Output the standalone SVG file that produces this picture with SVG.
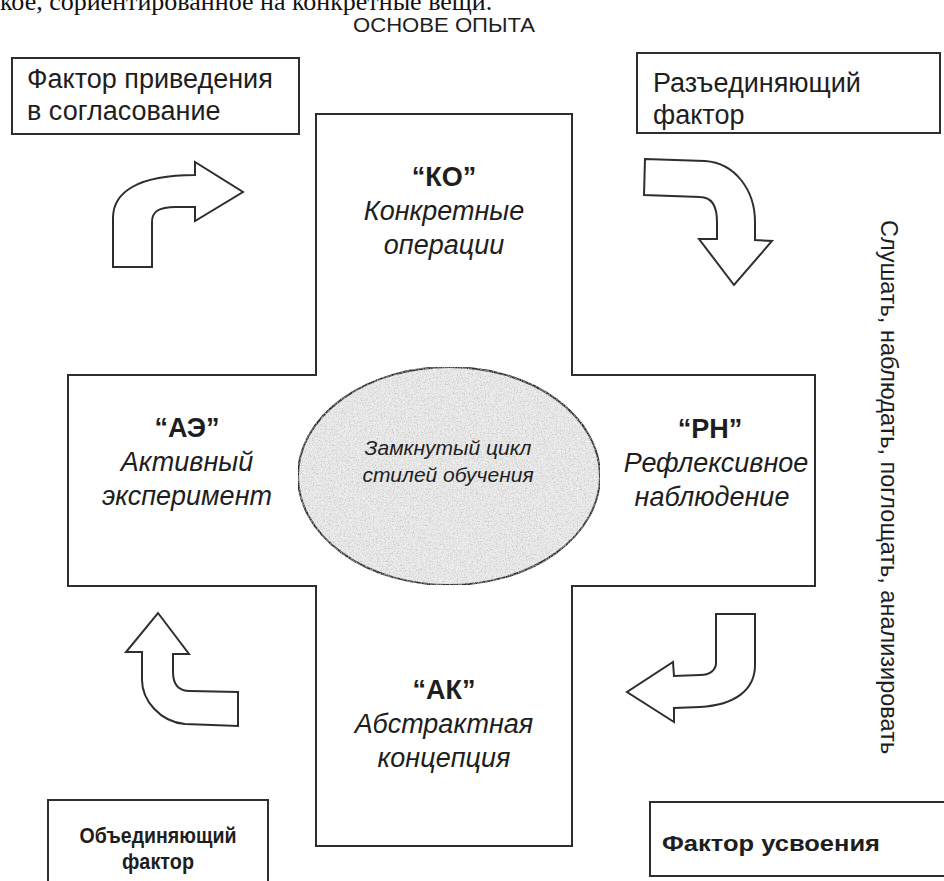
<svg xmlns="http://www.w3.org/2000/svg" width="944" height="881" viewBox="0 0 944 881">
  <style>
    .ln { fill: #fff; stroke: #2e2e2e; stroke-width: 2; stroke-linejoin: miter; }
    .box { fill: #fff; stroke: #2e2e2e; stroke-width: 2; }
    .sans { font-family: "Liberation Sans", Arial, sans-serif; fill: #1e1e1e; }
    .lbl { font-size: 27px; }
    .code { font-size: 27px; font-weight: bold; text-anchor: middle; }
    .it { font-size: 27px; font-style: italic; text-anchor: middle; }
    .fb { font-size: 22px; font-weight: bold; }
    .arrow { fill: #fff; stroke: #2e2e2e; stroke-width: 2; stroke-linejoin: miter; }
  </style>
  <defs>
    <filter id="grain" x="0" y="0" width="100%" height="100%">
      <feTurbulence type="fractalNoise" baseFrequency="0.75" numOctaves="2" seed="7" result="n"/>
      <feColorMatrix in="n" type="matrix" values="0 0 0 0 0.5  0 0 0 0 0.5  0 0 0 0 0.5  0 0 0 2.0 -0.85" result="dots"/>
      <feComposite in="dots" in2="SourceAlpha" operator="in" result="d2"/>
      <feMerge><feMergeNode in="SourceGraphic"/><feMergeNode in="d2"/></feMerge>
    </filter>
  </defs>

  <!-- running text of the page above the figure -->
  <text x="0" y="10" font-family="'Liberation Serif', 'Times New Roman', serif" font-size="26" fill="#111">кое, сориентированное на конкретные вещи.</text>

  <text class="sans" x="444" y="32" font-size="20" text-anchor="middle" textLength="182" lengthAdjust="spacingAndGlyphs">ОСНОВЕ ОПЫТА</text>

  <!-- cross-shaped frame -->
  <g id="cycle-frame">
    <path class="ln" d="M316,114 H572 V375 H815 V586 H572 V846 H316 V586 H68 V375 H316 Z"/>
  </g>

  <g id="node-ko">
    <text class="sans code" x="444" y="186">“КО”</text>
    <text class="sans it" x="444" y="220">Конкретные</text>
    <text class="sans it" x="444" y="254">операции</text>
  </g>

  <g id="node-ae">
    <text class="sans code" x="187" y="437">“АЭ”</text>
    <text class="sans it" x="187" y="471">Активный</text>
    <text class="sans it" x="187" y="505">эксперимент</text>
  </g>

  <g id="node-rn">
    <text class="sans code" x="710" y="438">“РН”</text>
    <text class="sans it" x="716" y="472">Рефлексивное</text>
    <text class="sans it" x="712" y="506">наблюдение</text>
  </g>

  <g id="node-ak">
    <text class="sans code" x="444" y="699">“АК”</text>
    <text class="sans it" x="444" y="733">Абстрактная</text>
    <text class="sans it" x="444" y="767">концепция</text>
  </g>

  <g id="node-center">
    <ellipse cx="449" cy="476" rx="151" ry="109" fill="#ededed" stroke="#2e2e2e" stroke-width="2" filter="url(#grain)"/>
    <text class="sans" x="448" y="455" font-size="21" font-style="italic" text-anchor="middle">Замкнутый цикл</text>
    <text class="sans" x="448" y="482" font-size="21" font-style="italic" text-anchor="middle">стилей обучения</text>
  </g>

  <!-- factor boxes -->
  <g id="node-accommodation">
    <rect class="box" x="12" y="58" width="287" height="76"/>
    <text class="sans lbl" x="27" y="88">Фактор приведения</text>
    <text class="sans lbl" x="27" y="120">в согласование</text>
  </g>

  <g id="node-divergence">
    <rect class="box" x="637" y="53" width="303" height="80"/>
    <text class="sans lbl" x="653" y="92">Разъединяющий</text>
    <text class="sans lbl" x="653" y="124">фактор</text>
  </g>

  <g id="node-convergence">
    <rect class="box" x="48" y="800" width="220" height="92"/>
    <text class="sans fb" x="158" y="843" text-anchor="middle" textLength="157" lengthAdjust="spacingAndGlyphs">Объединяющий</text>
    <text class="sans fb" x="158" y="869" text-anchor="middle" textLength="72" lengthAdjust="spacingAndGlyphs">фактор</text>
  </g>

  <g id="node-assimilation">
    <rect class="box" x="650" y="802" width="300" height="74"/>
    <text class="sans fb" x="662" y="851" font-size="26" textLength="218" lengthAdjust="spacingAndGlyphs">Фактор усвоения</text>
  </g>

  <g id="node-side-note">
    <text class="sans" transform="translate(881,220) rotate(90)" font-size="23.5">Слушать, наблюдать, поглощать, анализировать</text>
  </g>

  <!-- curved block arrows between the stages -->
  <g id="connectors">
    <path class="arrow" d="M113,267 L113,218 C113,192 138,175 195,175 L195,162 L243,192 L195,221 L195,207 L176,207 C158,207 152,212 152,222 L152,267 Z"/>
    <path class="arrow" d="M645,159 L705,161 C735,163 755,190 755,222 L755,240 L772,241 L734,285 L699,239 L717,239 L717,222 C717,207 712,197 700,197 L644,195 Z"/>
    <path class="arrow" d="M716,614 L755,614 L755,665 C755,690 735,705 700,707 L674,708 L674,722 L627,692 L673,662 L674,676 L700,675 C710,675 716,670 716,663 Z"/>
    <path class="arrow" d="M158,613 L189,654 L173,654 L173,672 C173,684 178,691 190,691 L238,692 L238,726 L185,724 C160,722 142,700 142,680 L142,652 L126,652 Z"/>
  </g>
</svg>
